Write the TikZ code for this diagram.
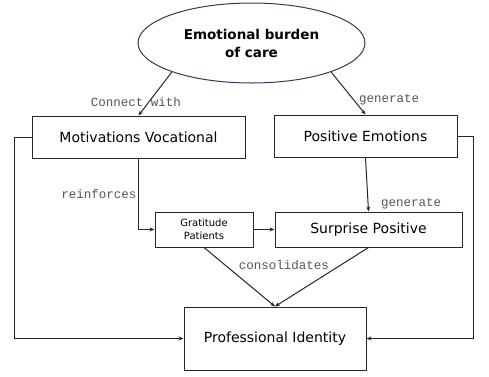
\documentclass[tikz,border=0pt]{standalone}
\usepackage{fontspec}
\setmainfont{DejaVu Sans}
\newfontfamily\lblfont{Liberation Mono}
\usetikzlibrary{shapes.geometric,arrows.meta}
\definecolor{ellcol}{HTML}{2E3B55}
\definecolor{lblgray}{HTML}{555555}
\begin{document}
\begin{tikzpicture}[x=1pt,y=-1pt,
  box/.style={draw=black!85,line width=1pt,inner sep=0pt,align=center,font=\fontsize{14}{16}\selectfont},
  conn/.style={line width=1pt,draw=black!85,-{Stealth[length=5pt,width=4pt]}},
  lbl/.style={text=lblgray,inner sep=0pt,font=\lblfont\fontsize{12.5}{14}\selectfont}]
\useasboundingbox (0,0) rectangle (489,376);
\node[ellipse,draw=ellcol,line width=1pt,minimum width=227pt,minimum height=80pt,inner sep=0pt,align=center,
  font=\bfseries\fontsize{13.5}{18}\selectfont] (ell) at (251.5,43) {Emotional burden\\of care};
\node[box,minimum width=213pt,minimum height=42pt] (mot) at (138.5,137) {Motivations Vocational};
\node[box,minimum width=183pt,minimum height=42pt] (pos) at (365.5,136) {Positive Emotions};
\node[box,minimum width=98pt,minimum height=35pt,font=\fontsize{10}{13}\selectfont] (grat) at (204,229.5) {Gratitude\\Patients};
\node[box,minimum width=187pt,minimum height=35pt] (sur) at (368.5,229.5) {Surprise Positive};
\node[box,minimum width=182pt,minimum height=63pt] (prof) at (275,338.5) {Professional Identity};

\draw[conn] (ell.200) -- (mot.north);
\draw[conn] (ell.340) -- (pos.north);
\draw[conn] (mot.south) |- (grat.west);
\draw[conn] (pos.south) -- (sur.north);
\draw[conn] (grat.east) -- (sur.west);
\draw[conn] (grat.south) -- (prof.north);
\draw[conn] (sur.south) -- (prof.north);
\draw[conn] (mot.west) -- ++(-17,0) |- (prof.west);
\draw[conn] (pos.east) -- ++(16,0) |- (prof.east);

\node[lbl] (l1) at (136,102) {Connect with};
\node[lbl] (l2) at (389,100) {generate};
\node[lbl] (l3) at (99,194) {reinforces};
\node[lbl] (l4) at (411,204) {generate};
\node[lbl] (l5) at (284,265) {consolidates};
\end{tikzpicture}
\end{document}
